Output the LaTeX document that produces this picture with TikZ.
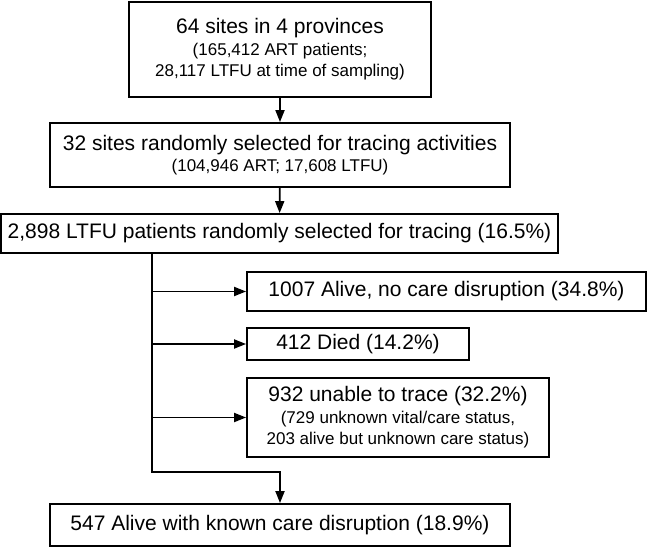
\documentclass[tikz,border=0pt]{standalone}
\usepackage{fontspec}
\setmainfont{Liberation Sans}
\usetikzlibrary{arrows.meta}
\definecolor{flowLine}{HTML}{000000}
\newcommand{\subline}[1]{{\fontsize{17}{21}\selectfont #1}}
\tikzset{
  flowfig/.style={
    x=1pt, y=-1pt,
    every node/.append style={font=\fontsize{21}{21.5}\selectfont},
    >={Triangle[length=12pt, width=9pt]},
  },
  flowbox/.style={
    draw=flowLine, line width=1.8pt, align=center, inner sep=0pt,
  },
  flow/.style={draw=flowLine, line width=1.8pt, ->},
}

\begin{document}
\begin{tikzpicture}[flowfig]
  \useasboundingbox (0,0) rectangle (648,548);
  \node[flowbox, minimum width=302pt, minimum height=95pt] (Sites) at (280,49.5)
    {64 sites in 4 provinces\\ \subline{(165,412 ART patients;}\\ \subline{28,117 LTFU at time of sampling)}};
  \node[flowbox, minimum width=460pt, minimum height=64pt] (Selected) at (280,155)
    {32 sites randomly selected for tracing activities\\ \subline{(104,946 ART; 17,608 LTFU)}};
  \node[flowbox, minimum width=557pt, minimum height=39pt] (Traced) at (279.5,233.5)
    {2,898 LTFU patients randomly selected for tracing (16.5\%)};
  \node[flowbox, minimum width=399pt, minimum height=39pt] (NoDisrupt) at (446.5,291.5)
    {1007 Alive, no care disruption (34.8\%)};
  \node[flowbox, minimum width=222pt, minimum height=32pt] (Died) at (358,344)
    {412 Died (14.2\%)};
  \node[flowbox, minimum width=302pt, minimum height=79pt] (Unable) at (398,417.5)
    {932 unable to trace (32.2\%)\\ \subline{(729 unknown vital/care status,}\\ \subline{203 alive but unknown care status)}};
  \node[flowbox, minimum width=460pt, minimum height=42pt] (Disrupt) at (280,525)
    {547 Alive with known care disruption (18.9\%)};
  \coordinate (Split) at (152,472);
  \draw[flow] (Sites) -- (Selected);
  \draw[flow] (Selected) -- (Traced);
  \draw[flow] (Traced.south -| Split) -- (Split) -| (Disrupt.north);
  \draw[flow] (NoDisrupt.west -| Split) -- (NoDisrupt.west);
  \draw[flow] (Died.west -| Split) -- (Died.west);
  \draw[flow] (Unable.west -| Split) -- (Unable.west);
\end{tikzpicture}
\end{document}
